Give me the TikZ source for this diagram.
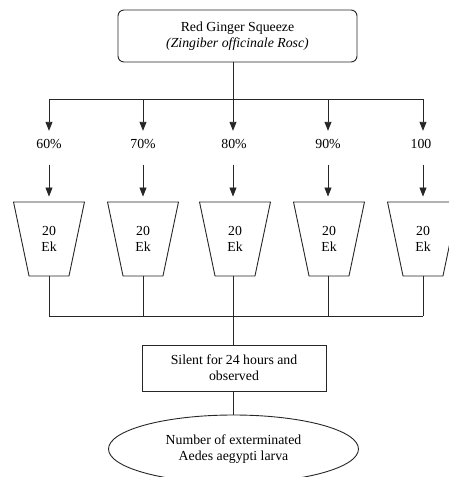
\documentclass[tikz,border=0pt]{standalone}
\usepackage{fontspec}
\setmainfont{Liberation Serif}
\usetikzlibrary{arrows.meta,shapes.geometric}
\begin{document}
\begin{tikzpicture}[x=1pt,y=-1pt,
  every node/.style={font=\fontsize{13.8}{16}\selectfont},
  ln/.style={line width=0.9pt, draw=black!85},
  arr/.style={ln, -{Triangle[length=9pt,width=7pt]}},
  topbox/.style={draw=black!85, line width=0.9pt, rounded corners=6pt, minimum width=239, minimum height=52, inner sep=0, align=center},
  sbox/.style={draw=black!85, line width=0.9pt, minimum width=184, minimum height=46, inner sep=0, align=center},
  tz/.style={trapezium, draw=black!85, line width=0.9pt, shape border rotate=180, trapezium left angle=76.7, trapezium right angle=76.7, trapezium stretches=true, minimum width=71, minimum height=74, inner sep=0, align=center},
  pct/.style={inner sep=0, text height=9.5, text depth=0, anchor=base},
  ell/.style={ellipse, draw=black!85, line width=0.9pt, minimum width=250, minimum height=68, inner sep=0, align=center}]
\useasboundingbox (0,0) rectangle (448,477);
\fill[white] (0,0) rectangle (448,477);
\node[topbox] (top) at (237.5,36) {Red Ginger Squeeze\\\textit{(Zingiber officinale Rosc)}};
\coordinate (h1) at (49,99);
\coordinate (h2) at (143,99);
\coordinate (h3) at (233,99);
\coordinate (h4) at (328,99);
\coordinate (h5) at (423,99);
\draw[ln] (h3 |- top.south) -- (h3);
\draw[ln] (h1) -- (h5);
\foreach \i/\x/\t in {1/49/60\%,2/143/70\%,3/234/80\%,4/328/90\%,5/421/100}{
  \node[pct] (p\i) at (\x,148.5) {\t};
}
\foreach \i/\x in {1/49,2/143,3/235,4/329,5/423}{
  \node[tz] (t\i) at (\x,239) {20\\Ek};
}
\foreach \i in {1,...,5}{
  \draw[arr] (h\i) -- (h\i |- p\i.north) [shorten >=8pt];
  \draw[arr, shorten <=16pt, shorten >=5pt] (h\i |- p\i.south) -- (h\i |- t\i.north);
}
\coordinate (b1) at (49,316);
\coordinate (b2) at (143,316);
\coordinate (b3) at (233,316);
\coordinate (b4) at (328,316);
\coordinate (b5) at (423,316);
\foreach \i in {1,...,5}{
  \draw[ln] (b\i |- t\i.south) -- (b\i);
}
\draw[ln] (b1) -- (b5);
\node[sbox] (sil) at (234,368) {Silent for 24 hours and\\observed};
\draw[ln] (b3) -- (b3 |- sil.north);
\node[ell] (res) at (233.5,449) {Number of exterminated\\Aedes aegypti larva};
\draw[ln] (b3 |- sil.south) -- (b3 |- res.north);
\end{tikzpicture}
\end{document}
